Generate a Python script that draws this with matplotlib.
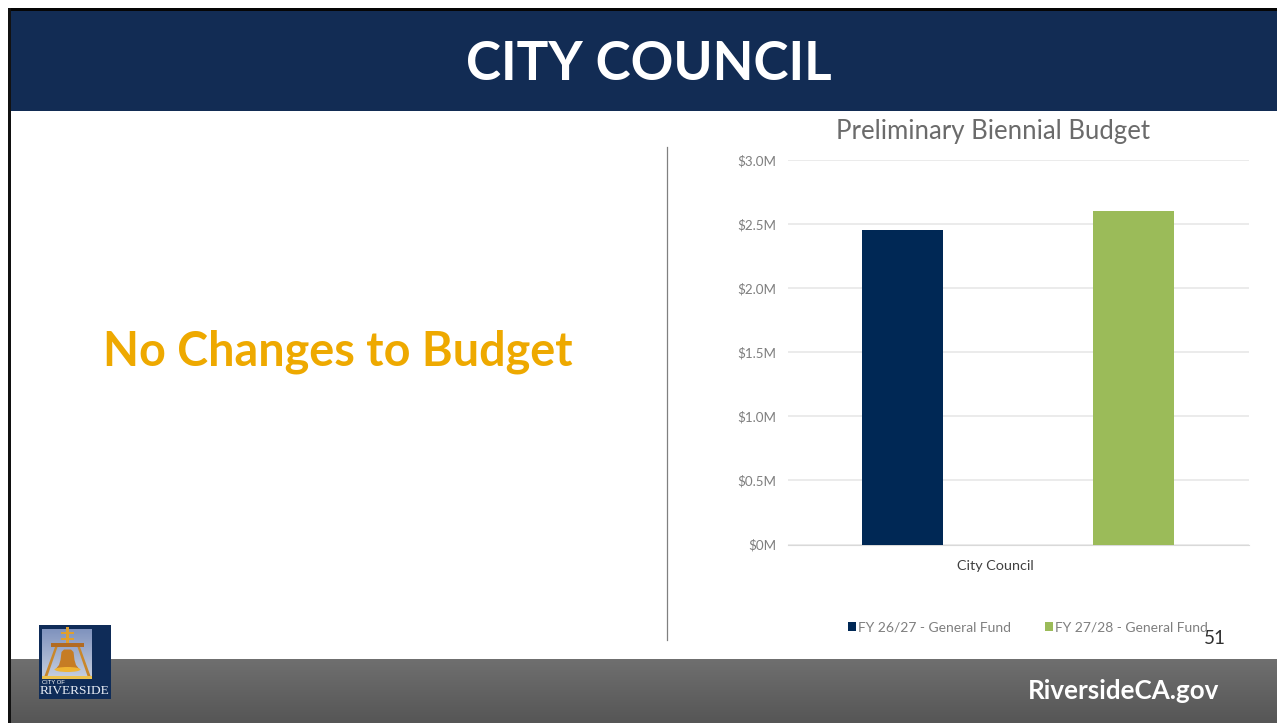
"""Slide: City Council preliminary biennial budget."""
import numpy as np
import matplotlib
matplotlib.use("Agg")
import matplotlib.pyplot as plt
from matplotlib.patches import Polygon, Rectangle, Ellipse

W, H = 1277, 723

series_labels = ["FY 26/27 - General Fund", "FY 27/28 - General Fund"]
series_values = [2.45, 2.60]  # millones
series_colors = ["#002855", "#9BBB59"]
tick_values = [0, 0.5, 1.0, 1.5, 2.0, 2.5, 3.0]
tick_labels = ["$0M", "$0.5M", "$1.0M", "$1.5M", "$2.0M", "$2.5M", "$3.0M"]
category = "City Council"

NAVY = "#122C54"
GRAY = "#7F7F7F"
FONT = ["Lato", "DejaVu Sans"]
plt.rcParams["font.family"] = FONT


def px_axes(fig, x0, y0, x1, y1, **kw):
    """Ejes colocados con coordenadas de píxel (origen arriba a la izquierda)."""
    return fig.add_axes([x0 / W, 1 - y1 / H, (x1 - x0) / W, (y1 - y0) / H], **kw)


def draw_logo(bg):
    bg.add_patch(Rectangle((39, 625), 72, 74, color="#0F2C58", zorder=3, lw=0))
    sky = np.linspace(0, 1, 40).reshape(-1, 1)
    bg.imshow(sky, extent=(42, 92, 678, 629), cmap=matplotlib.colors.LinearSegmentedColormap.from_list(
        "sky", ["#8093BE", "#C5CEDF"]), aspect="auto", zorder=4)
    gold = "#E0A030"
    brown = "#B26B22"
    # cruz y travesaño
    bg.add_patch(Rectangle((65.5, 627), 3.5, 17, color=gold, zorder=5, lw=0))
    bg.add_patch(Rectangle((61, 632), 12.5, 2.2, color=gold, zorder=5, lw=0))
    bg.add_patch(Rectangle((61, 637.5), 12.5, 2.2, color=gold, zorder=5, lw=0))
    bg.add_patch(Rectangle((51, 642.5), 33, 4.5, color=brown, zorder=5, lw=0))
    # patas
    bg.add_patch(Polygon([(55, 647), (57.5, 647), (47.5, 676), (44.5, 676)], color="#C9872A", zorder=5, lw=0))
    bg.add_patch(Polygon([(77.5, 647), (80, 647), (90.5, 676), (87.5, 676)], color="#C9872A", zorder=5, lw=0))
    # campana
    bg.add_patch(Polygon([(64, 649.5), (71, 649.5), (73.5, 652), (74.5, 660), (76, 665), (80, 670),
                          (55, 670), (59, 665), (60.5, 660), (61.5, 652)],
                         color="#C67C24", zorder=6, lw=0))
    bg.add_patch(Ellipse((67.5, 669.5), 26, 5, color="#F0B432", zorder=7, lw=0))
    bg.add_patch(Rectangle((42, 676), 50, 2.5, color="#EDC24C", zorder=6, lw=0))
    bg.text(42, 682.5, "CITY OF", color="white", fontsize=4.2, va="center", ha="left", zorder=8,
            family=["Liberation Sans"])
    bg.text(75, 691, "RIVERSIDE", color="#E8EDF5", fontsize=9.6, va="center", ha="center", zorder=8,
            family=["Liberation Serif"])


def main():
    fig = plt.figure(figsize=(W / 100, H / 100), dpi=100, facecolor="white")

    bg = fig.add_axes([0, 0, 1, 1])
    bg.set_axis_off()

    # franja gris inferior con degradado
    grad = np.linspace(0, 1, 64).reshape(-1, 1)
    cmap = matplotlib.colors.LinearSegmentedColormap.from_list("foot", ["#6F6F6F", "#565656"])
    bg.imshow(grad, extent=(8, W, 723, 659), cmap=cmap, aspect="auto", zorder=1)
    bg.add_patch(Rectangle((10, 10), W - 10, 100.5, color=NAVY, zorder=1, lw=0))
    bg.add_patch(Rectangle((8, 8), W - 8, 2.5, color="#050505", zorder=2, lw=0))
    bg.add_patch(Rectangle((8, 8), 2.5, H - 8, color="#111111", zorder=2, lw=0))
    bg.plot([667, 667], [147, 640], color="#808080", lw=0.9, zorder=2)

    draw_logo(bg)
    bg.set_xlim(0, W)
    bg.set_ylim(H, 0)

    bg.text(649, 64, "CITY COUNCIL", color="white", fontsize=38.2, fontweight="bold",
            ha="center", va="center", zorder=3)
    bg.text(337.5, 352, "No Changes to Budget", color="#EEA900", fontsize=33.7, fontweight="bold",
            ha="center", va="center", zorder=3)
    bg.text(1123.5, 691, "RiversideCA.gov", color="white", fontsize=18.7, fontweight="bold",
            ha="center", va="center", zorder=3)
    bg.text(1214.5, 638, "51", color="#303030", fontsize=13.5, ha="center", va="center", zorder=6)

    # gráfico de barras
    ax = px_axes(fig, 788, 160, 1249, 544.5)
    ax.patch.set_alpha(0)
    xs = np.arange(len(series_values))
    bars = ax.bar(xs, series_values, width=0.35, color=series_colors, zorder=3)
    ax.set_xlim(-0.4957, 1.5)
    ax.set_ylim(0, 3.0)
    ax.set_yticks(tick_values)
    ax.set_yticklabels(tick_labels, color=GRAY, fontsize=9.6)
    ax.tick_params(axis="y", length=0, pad=8.5)
    ax.set_xticks([0.4])
    ax.set_xticklabels([category], color="#404040", fontsize=10.4)
    ax.tick_params(axis="x", length=0, pad=11.5)
    ax.grid(axis="y", color="#E8E8E8", lw=1.2, zorder=0)
    ax.set_axisbelow(True)
    for side in ["top", "left", "right"]:
        ax.spines[side].set_visible(False)
    ax.spines["bottom"].set_color("#D9D9D9")

    fig.text(993 / W, 1 - 131.5 / H, "Preliminary Biennial Budget", color="#6B6B6B",
             fontsize=18.5, ha="center", va="center")

    ax.legend(bars, series_labels, ncol=2, frameon=False, loc="center",
              bbox_to_anchor=((1028 - 788) / 461, -(627 - 544.5) / 384.5),
              fontsize=10, labelcolor=GRAY, handlelength=0.58, handleheight=0.6,
              handletextpad=0.12, columnspacing=2.45)

    fig.savefig("out.png", dpi=100)


if __name__ == "__main__":
    main()
